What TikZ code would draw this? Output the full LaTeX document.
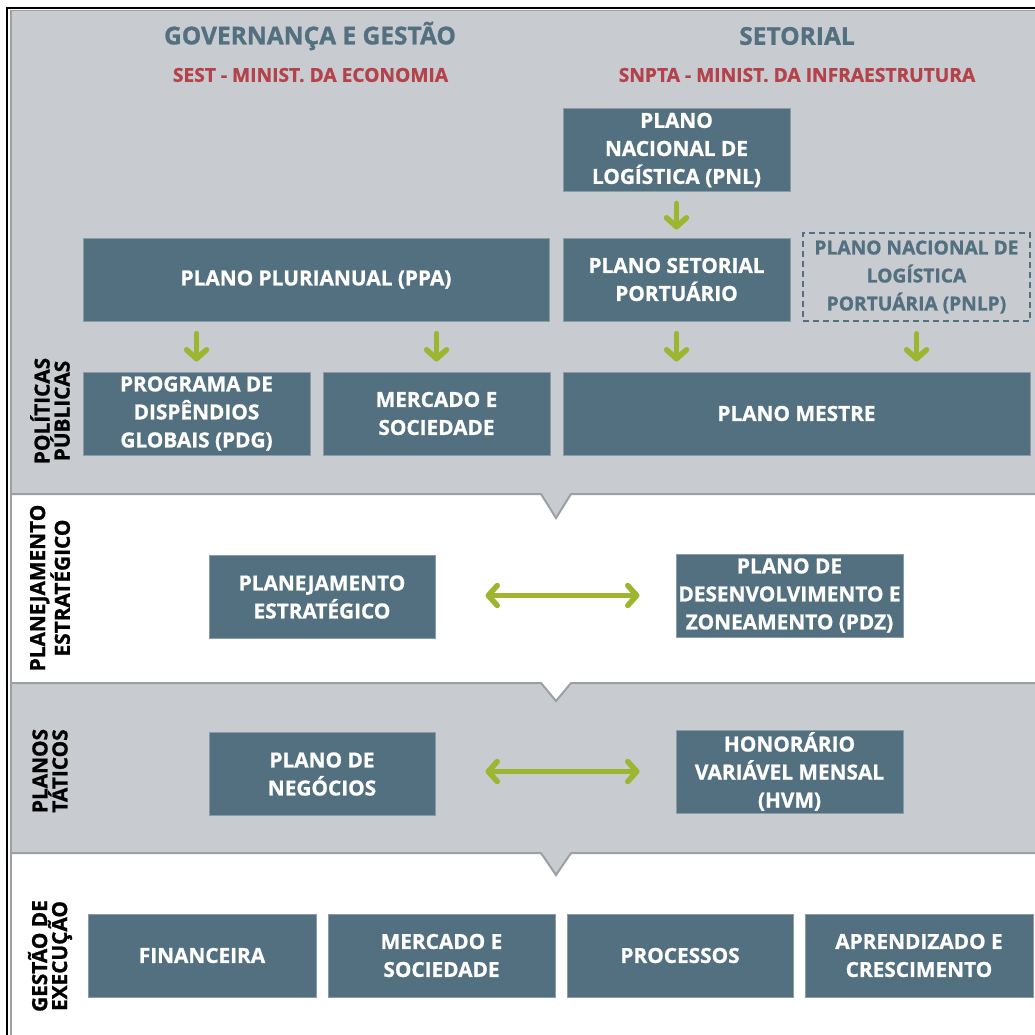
\documentclass[tikz,border=0pt]{standalone}
\usepackage{fontspec}
\setmainfont{Open Sans}[BoldFeatures={FakeBold=1}]
\usetikzlibrary{arrows.meta}
\definecolor{panelgrey}{HTML}{C8CBCF}
\definecolor{sepline}{HTML}{9C9FA3}
\definecolor{boxfill}{HTML}{52707F}
\definecolor{boxedge}{HTML}{8A9DA7}
\definecolor{headblue}{HTML}{52707F}
\definecolor{headred}{HTML}{B3424A}
\definecolor{leaf}{HTML}{9DB52F}
\tikzset{
  stagebox/.style={draw=boxedge, line width=1pt, fill=boxfill, text=white,
    font=\bfseries\fontsize{20.8}{28}\selectfont, align=center, inner sep=0pt,
    minimum width=227pt, minimum height=83pt},
  planbox/.style={stagebox, draw=headblue, fill=panelgrey, text=headblue,
    font=\bfseries\fontsize{19.2}{28}\selectfont,
    dash pattern=on 6pt off 4pt, line width=1.6pt},
  rowlabel/.style={rotate=90, font=\bfseries\fontsize{20.8}{20}\selectfont,
    align=center, text=black, inner sep=0pt},
  colhead/.style={font=\bfseries\fontsize{24.5}{30}\selectfont, text=headblue, inner sep=0pt},
  colsub/.style={font=\bfseries\fontsize{19.2}{22}\selectfont, text=headred, inner sep=0pt},
  flow/.style={draw=leaf, line width=5.5pt, line cap=round,
    -{Straight Barb[length=9pt, width=20pt, line cap=round, line join=round]}},
  twoway/.style={flow, {Straight Barb[length=9pt, width=20pt, line cap=round, line join=round]}-{Straight Barb[length=9pt, width=20pt, line cap=round, line join=round]}},
}
\begin{document}
\begin{tikzpicture}[x=1pt, y=-1pt]
\useasboundingbox (0,0) rectangle (1035,1035);
% horizontal bands
\fill[white] (0,0) rectangle (1035,1035);
\fill[panelgrey] (12,11) rectangle (1035,494);
\fill[white] (12,494) rectangle (1035,683);
\fill[panelgrey] (12,683) rectangle (1035,853);
\fill[white] (12,853) rectangle (1035,1035);
% pointers from one band into the next
\fill[panelgrey] (541,494) -- (556,518) -- (571,494) -- cycle;
\fill[white] (541,683) -- (556,701) -- (571,683) -- cycle;
\fill[panelgrey] (541,853) -- (556,875) -- (571,853) -- cycle;
\draw[sepline, line width=2pt] (12,494) -- (541,494) -- (556,518) -- (571,494) -- (1035,494);
\draw[sepline, line width=2pt] (12,683) -- (541,683) -- (556,701) -- (571,683) -- (1035,683);
\draw[sepline, line width=2pt] (12,853) -- (541,853) -- (556,875) -- (571,853) -- (1035,853);
% frame
\draw[sepline, line width=1.5pt] (11,1035) -- (11,10.5) -- (1035,10.5);
\draw[black, line width=2pt] (7,1035) -- (7,8) -- (1035,8);

% column headings
\node[colhead] (hgov) at (310,36) {GOVERNANÇA E GESTÃO};
\node[colsub] (sgov) at (310.5,75) {SEST - MINIST. DA ECONOMIA};
\node[colhead] (hset) at (797,36) {SETORIAL};
\node[colsub] (sset) at (797,75) {SNPTA - MINIST. DA INFRAESTRUTURA};

% row labels
\node[rowlabel] (lpol) at (50,411) {POLÍTICAS\\PÚBLICAS};
\node[rowlabel] (lest) at (50,588) {PLANEJAMENTO\\ESTRATÉGICO};
\node[rowlabel] (ltat) at (50,771) {PLANOS\\TÁTICOS};
\node[rowlabel] (lexe) at (50,956) {GESTÃO DE\\EXECUÇÃO};

% public policy plans
\node[stagebox, minimum height=82pt] (pnl) at (676.5,150) {PLANO\\NACIONAL DE\\LOGÍSTICA (PNL)};
\node[stagebox, minimum width=466pt] (ppa) at (316,279.5) {PLANO PLURIANUAL (PPA)};
\node[stagebox] (psp) at (676.5,279.5) {PLANO SETORIAL\\PORTUÁRIO};
\node[planbox, minimum height=88pt] (pnlp) at (916.5,277) {PLANO NACIONAL DE\\LOGÍSTICA\\PORTUÁRIA (PNLP)};
\node[stagebox] (pdg) at (196.5,413.5) {PROGRAMA DE\\DISPÊNDIOS\\GLOBAIS (PDG)};
\node[stagebox] (mso) at (436.5,413.5) {MERCADO E\\SOCIEDADE};
\node[stagebox, minimum width=467pt] (pme) at (796.5,413.5) {PLANO MESTRE};

% strategic planning
\node[stagebox, minimum width=226pt] (pes) at (322,597) {PLANEJAMENTO\\ESTRATÉGICO};
\node[stagebox] (pdz) at (789.5,595.5) {PLANO DE\\DESENVOLVIMENTO E\\ZONEAMENTO (PDZ)};

% tactical plans
\node[stagebox, minimum width=226pt] (pne) at (322,774) {PLANO DE\\NEGÓCIOS};
\node[stagebox] (hvm) at (789.5,771.5) {HONORÁRIO\\VARIÁVEL MENSAL\\(HVM)};

% execution
\node[stagebox, minimum width=228pt] (fin) at (202,955.5) {FINANCEIRA};
\node[stagebox] (msx) at (441.5,955.5) {MERCADO E\\SOCIEDADE};
\node[stagebox, minimum width=226pt] (pro) at (680,955.5) {PROCESSOS};
\node[stagebox, minimum width=228pt] (apr) at (919,955.5) {APRENDIZADO E\\CRESCIMENTO};

% flows
\draw[flow, shorten <=12pt, shorten >=8pt] (pnl.south -| psp.north) -- (psp.north);
\draw[flow, shorten <=12pt, shorten >=10pt] (ppa.south -| pdg.north) -- (pdg.north);
\draw[flow, shorten <=12pt, shorten >=10pt] (ppa.south -| mso.north) -- (mso.north);
\draw[flow, shorten <=12pt, shorten >=10pt] (psp.south) -- (psp.south |- pme.north);
\draw[flow, shorten <=12pt, shorten >=10pt] (pnlp.south) -- (pnlp.south |- pme.north);
\draw[twoway, shorten <=50pt, shorten >=36pt] (pes.east |- pdz.west) -- (pdz.west);
\draw[twoway, shorten <=50pt, shorten >=36pt] (pne.east |- hvm.west) -- (hvm.west);
\end{tikzpicture}
\end{document}
